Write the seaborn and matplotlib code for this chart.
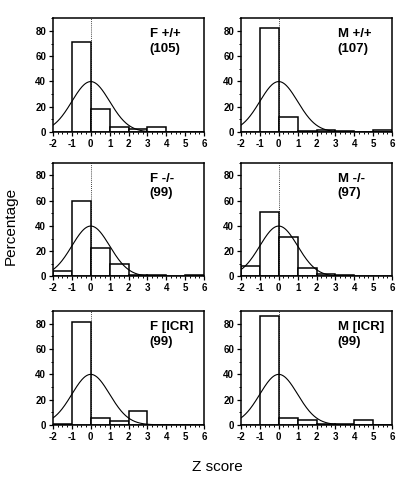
import numpy as np
import matplotlib
matplotlib.use('Agg')
import matplotlib.pyplot as plt
import seaborn as sns

# Bins of width 1 from -2 to 6, bar heights in percent
bin_edges = [-2, -1, 0, 1, 2, 3, 4, 5, 6]
bin_centers = [-1.5, -0.5, 0.5, 1.5, 2.5, 3.5, 4.5, 5.5]

f_wt = [0, 71, 18.5, 4, 2, 4, 0, 0]
m_wt = [0, 82, 12, 1, 1.5, 0.5, 0, 1.5]
f_ko = [4, 60, 22.5, 10, 1, 1, 0, 1]
m_ko = [8, 51, 31, 6.5, 2, 1, 0.5, 0]
f_icr = [0.5, 81, 5, 3, 11, 0, 0, 0]
m_icr = [0, 86, 5, 3.5, 1, 0.5, 3.5, 0]

labels = ['F +/+\n(105)', 'M +/+\n(107)', 'F -/-\n(99)',
          'M -/-\n(97)', 'F [ICR]\n(99)', 'M [ICR]\n(99)']
series = [f_wt, m_wt, f_ko, m_ko, f_icr, m_icr]

# reference curve: standard normal density, expressed in percent
norm_mu, norm_sigma, norm_scale = 0.0, 1.0, 100.0

sns.set_style('white')
plt.rcParams['font.family'] = ['Liberation Sans', 'DejaVu Sans']
plt.rcParams['text.color'] = 'black'
plt.rcParams['xtick.color'] = 'black'
plt.rcParams['ytick.color'] = 'black'
plt.rcParams['axes.labelcolor'] = 'black'
plt.rcParams['axes.unicode_minus'] = False

fig = plt.figure(figsize=(4.14, 4.8), dpi=100)

lefts = [0.128, 0.582]
bottoms = [0.725, 0.424, 0.115]
width, height = 0.365, 0.237

z = np.linspace(-2, 6, 400)
curve = norm_scale * np.exp(-0.5 * ((z - norm_mu) / norm_sigma) ** 2) / (norm_sigma * np.sqrt(2 * np.pi))

for i, (vals, lab) in enumerate(zip(series, labels)):
    ax = fig.add_axes([lefts[i % 2], bottoms[i // 2], width, height])
    sns.histplot(x=bin_centers, weights=vals, bins=bin_edges, ax=ax,
                 color='white', edgecolor='black', linewidth=1.1, alpha=1)
    sns.lineplot(x=z, y=curve, ax=ax, color='black', linewidth=0.8)
    ax.axvline(0, color='black', linestyle=(0, (1, 1.5)), linewidth=0.6)
    ax.set_xlim(-2, 6)
    ax.set_ylim(0, 90)
    ax.set_xticks(range(-2, 7))
    ax.set_xticks(np.arange(-2, 6.01, 0.25), minor=True)
    ax.set_yticks([0, 20, 40, 60, 80])
    ax.set_yticks(range(0, 91, 10), minor=True)
    ax.tick_params(which='major', direction='out', length=3, width=0.9,
                   labelsize=7, pad=2, bottom=True, left=True)
    ax.tick_params(which='minor', direction='out', length=1.5, width=0.7,
                   bottom=True, left=True)
    for t in ax.get_xticklabels() + ax.get_yticklabels():
        t.set_fontweight('bold')
    for s in ax.spines.values():
        s.set_linewidth(1.1)
        s.set_color('black')
    ax.set_xlabel('')
    ax.set_ylabel('')
    ax.text(0.64, 0.91, lab, transform=ax.transAxes, ha='left', va='top',
            fontsize=9.5, fontweight='bold', linespacing=1.25)

fig.text(0.025, 0.53, 'Percentage', rotation=90, ha='center', va='center', fontsize=11)
fig.text(0.525, 0.027, 'Z score', ha='center', va='center', fontsize=11)

fig.savefig('out.png', dpi=100)
